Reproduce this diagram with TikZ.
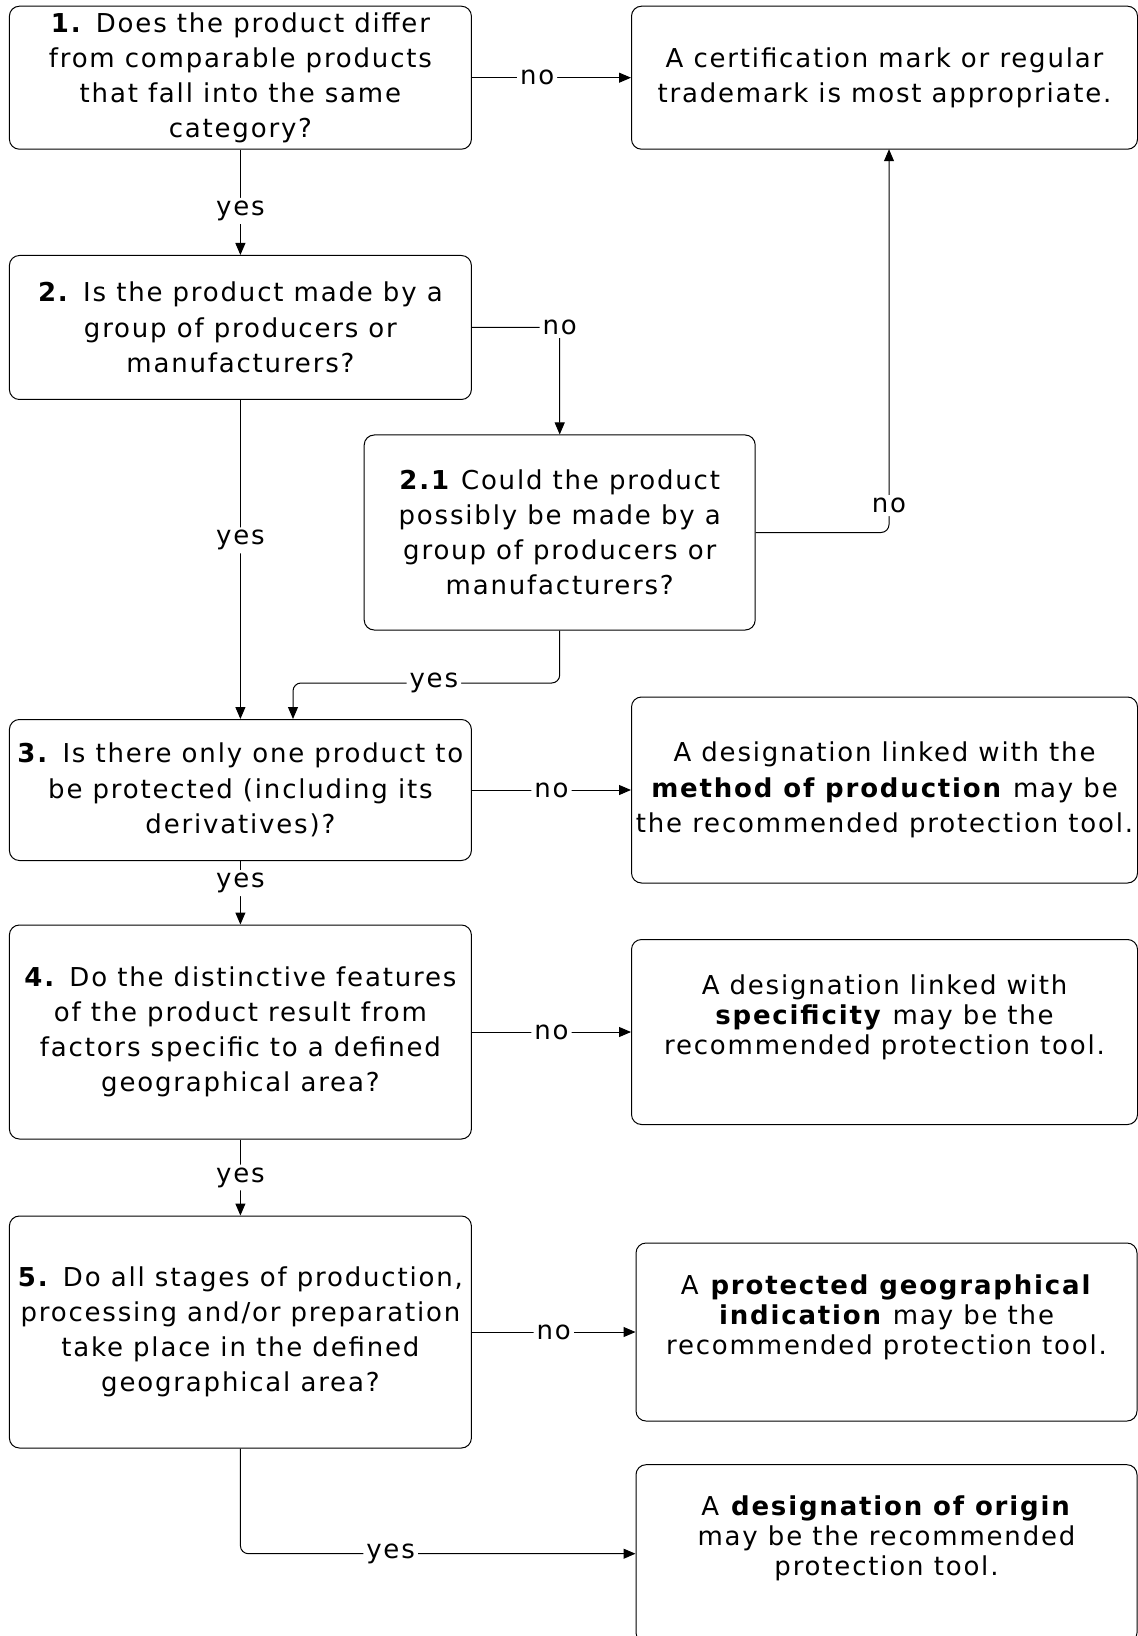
\documentclass[tikz,border=0pt]{standalone}
\usepackage{fontspec}
\setmainfont{DejaVu Sans}[LetterSpace=7]
\usetikzlibrary{arrows.meta}

\begin{document}
\begin{tikzpicture}[
  x=0.5pt, y=-0.5pt,
  >={Triangle[length=6pt,width=5pt]},
  kasten/.style={
    draw, rounded corners=5pt, line width=0.5pt,
    align=center, inner sep=0pt,
    font=\fontsize{13}{17.6}\selectfont
  },
  frage/.style={kasten, minimum width=231pt},
  antwort/.style={kasten, minimum width=253pt},
  antworttext/.style={align=center, inner sep=0pt, font=\fontsize{13}{15}\selectfont},
  beschr/.style={fill=white, inner sep=1.5pt, font=\fontsize{13}{15}\selectfont},
  pfeil/.style={line width=0.5pt, rounded corners=4pt}
]
\useasboundingbox (0,0) rectangle (1138,1636);

\draw (240.4, 77.7) node [frage, minimum height=71.5pt] (q1)
  {\textbf{1.} Does the product differ\\from comparable products\\that fall into the same\\category?};
\draw (884.5, 77.7) node [antwort, minimum height=71.5pt] (a1)
  {A certification mark or regular\\trademark is most appropriate.};
\draw (240.4, 327.5) node [frage, minimum height=72pt] (q2)
  {\textbf{2.} Is the product made by a\\group of producers or\\manufacturers?};
\draw (559.7, 532.5) node [kasten, minimum width=195.5pt, minimum height=97.5pt] (q21)
  {\textbf{2.1} Could the product\\possibly be made by a\\group of producers or\\manufacturers?};
\draw (240.4, 790) node [frage, minimum height=70.5pt] (q3)
  {\textbf{3.} Is there only one product to\\be protected (including its\\derivatives)?};
\draw (884.5, 790) node [antwort, minimum height=93pt] (a3)
  {A designation linked with the\\\textbf{method of production} may be\\the recommended protection tool.};
\draw (240.4, 1032) node [frage, minimum height=107pt] (q4)
  {\textbf{4.} Do the distinctive features\\of the product result from\\factors specific to a defined\\geographical area?};
\draw (884.5, 1032) node [antwort, minimum height=92.5pt] (a4) {};
\draw (884.5, 1017) node [antworttext] (a4t)
  {A designation linked with\\\textbf{specificity} may be the\\recommended protection tool.};
\draw (240.4, 1332) node [frage, minimum height=116pt] (q5)
  {\textbf{5.} Do all stages of production,\\processing and/or preparation\\take place in the defined\\geographical area?};
\draw (886.5, 1332) node [antwort, minimum width=250.5pt, minimum height=89pt] (a5) {};
\draw (886.5, 1317) node [antworttext] (a5t)
  {A \textbf{protected geographical}\\\textbf{indication} may be the\\recommended protection tool.};
\draw (886.5, 1553.7) node [antwort, minimum width=250.5pt, minimum height=89pt] (a6) {};
\draw (886.5, 1538.5) node [antworttext] (a6t)
  {A \textbf{designation of origin}\\may be the recommended\\protection tool.};

\coordinate (k1) at (889, 149.2);
\coordinate (k2) at (293, 683);

\path [pfeil]
  (q1) edge[->] node[beschr, pos=0.41] {no} (a1)
  (q1) edge[->] node[beschr, pos=0.58] {yes} (q2)
  (q2) edge[->] node[beschr, pos=0.44] {yes} (q3)
  (q3) edge[->] node[beschr] {no} (a3)
  (q3) edge[->] node[beschr, pos=0.35] {yes} (q4)
  (q4) edge[->] node[beschr] {no} (a4)
  (q4) edge[->] node[beschr, pos=0.5] {yes} (q5)
  (q5) edge[->] node[beschr] {no} (a5);

\draw [pfeil, ->] (q2.east) -| node[beschr] {no} (q21.north);
\draw [pfeil, ->] (q21.east) -| node[beschr, pos=0.535] {no} (k1);
\draw [pfeil, ->] (q21.south) |- node[beschr, pos=0.736] {yes} (k2) -- (k2 |- q3.north);
\draw [pfeil, ->] (q5.south) |- node[beschr, pos=0.69] {yes} (a6.west);
\end{tikzpicture}
\end{document}
